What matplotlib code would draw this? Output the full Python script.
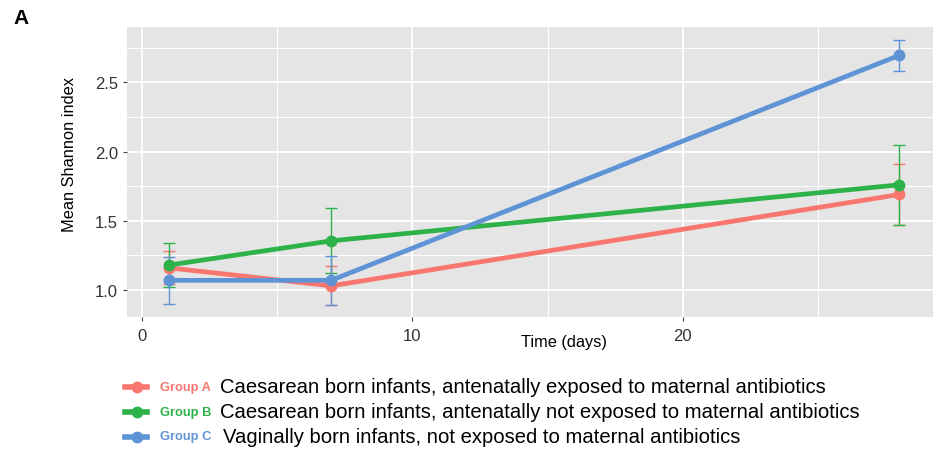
import matplotlib.pyplot as plt
from matplotlib.lines import Line2D
from matplotlib.ticker import MultipleLocator

plt.rcParams['font.family'] = ['Liberation Sans', 'DejaVu Sans']

days = [1, 7, 28]
groups = ['Group A', 'Group B', 'Group C']
descriptions = ['Caesarean born infants, antenatally exposed to maternal antibiotics',
                'Caesarean born infants, antenatally not exposed to maternal antibiotics',
                'Vaginally born infants, not exposed to maternal antibiotics']
colors = ['#F8766D', '#2DB24A', '#5E93D6']
mean_a = [1.16, 1.03, 1.69]
err_a = [0.12, 0.14, 0.22]
mean_b = [1.18, 1.355, 1.76]
err_b = [0.16, 0.235, 0.29]
mean_c = [1.07, 1.07, 2.695]
err_c = [0.17, 0.178, 0.11]

means = [mean_a, mean_b, mean_c]
errs = [err_a, err_b, err_c]

fig = plt.figure(figsize=(9.34, 4.52), dpi=100)
ax = fig.add_axes([127/934, 1 - 318/452, 806/934, 290/452])
ax.set_facecolor('#E5E5E5')
for s in ax.spines.values():
    s.set_visible(False)

ax.xaxis.set_major_locator(MultipleLocator(10))
ax.xaxis.set_minor_locator(MultipleLocator(5))
ax.yaxis.set_major_locator(MultipleLocator(0.5))
ax.yaxis.set_minor_locator(MultipleLocator(0.25))
ax.grid(which='major', color='white', lw=1.3)
ax.grid(which='minor', color='white', lw=0.7)
ax.set_axisbelow(True)
ax.tick_params(which='minor', length=0)
ax.tick_params(which='major', length=3, width=0.8, color='#444444',
               labelsize=12, labelcolor='#333333')
ax.tick_params(axis='x', pad=5)

for m, e, c in zip(means, errs, colors):
    ax.errorbar(days, m, yerr=e, color=c, lw=3.4, marker='o', ms=7.5,
                elinewidth=1, capsize=4, capthick=1)

ax.set_xlim(-0.55, 29.25)
ax.set_ylim(0.805, 2.9)
ax.set_yticks([1.0, 1.5, 2.0, 2.5])
ax.set_xticks([0, 10, 20])

fig.text(564/934, 1 - 343/452, 'Time (days)', ha='center', va='center', fontsize=11.8)
fig.text(70/934, 1 - 155/452, 'Mean Shannon index', ha='center', va='center',
         rotation=90, fontsize=11.8)
fig.text(13/934, 1 - 19/452, 'A', ha='left', va='center', fontsize=15, fontweight='bold')

rows = [388, 413, 437.5]
desc_x = [220, 220, 223]
for y, g, d, c, dx in zip(rows, groups, descriptions, colors, desc_x):
    yy = 1 - y/452
    fig.add_artist(Line2D([125/934, 147/934], [yy, yy], color=c, lw=4,
                          transform=fig.transFigure))
    fig.add_artist(Line2D([137/934], [yy], color=c, marker='o', ms=7.5,
                          transform=fig.transFigure))
    fig.text(160/934, yy, g, color=c, fontsize=9.3, fontweight='bold',
             ha='left', va='center')
    fig.text(dx/934, yy, d, color='black', fontsize=14.6, ha='left', va='center')

fig.savefig('out.png', dpi=100)
